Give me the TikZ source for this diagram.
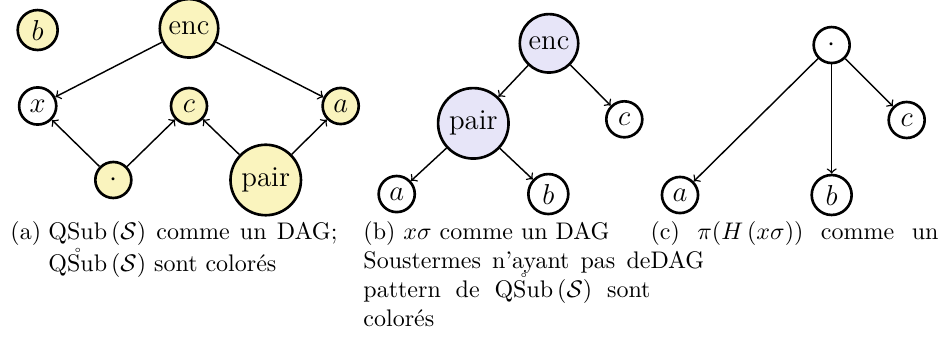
\documentclass[tikz,border=0pt]{standalone}
\usepackage{amsmath,amssymb}
\usepackage{fontspec}
\usepackage{tikz}
\definecolor{black}{RGB}{0,0,0}
\definecolor{qsubyellow}{RGB}{250,244,190}
\definecolor{souslavender}{RGB}{231,229,248}
\newcommand{\QSub}{\mathrm{QSub}}

\begin{document}
\begin{tikzpicture}[termnode/.style={draw=black,line width=1.1pt,circle,inner sep=2.5pt,minimum size=15pt,font=\large},
    qsubnode/.style={termnode,fill=qsubyellow},
    sousnode/.style={termnode,fill=souslavender},
    capnode/.style={anchor=base west,inner sep=0pt,align=justify}]
        \useasboundingbox (0,0) rectangle (13.771,5.084);

        % (a) QSub comme un DAG
        \node[qsubnode] (bA) at (0.552,4.644) {$b$};
        \node[qsubnode] (encA) at (2.769,4.669) {enc};
        \node[termnode] (xA) at (0.552,3.531) {$x$};
        \node[qsubnode] (cA) at (2.769,3.531) {$c$};
        \node[qsubnode] (aA) at (4.991,3.531) {$a$};
        \node[qsubnode] (dotA) at (1.660,2.447) {$\cdot$};
        \node[qsubnode] (pairA) at (3.893,2.447) {pair};

        \draw [semithick, ->] (encA) -- (xA);
        \draw [semithick, ->] (encA) -- (aA);
        \draw [semithick, ->] (dotA) -- (xA);
        \draw [semithick, ->] (dotA) -- (cA);
        \draw [semithick, ->] (pairA) -- (cA);
        \draw [semithick, ->] (pairA) -- (aA);

        % (b) x sigma comme un DAG
        \node[sousnode] (encB) at (8.043,4.449) {enc};
        \node[sousnode] (pairB) at (6.934,3.277) {pair};
        \node[termnode] (cB) at (9.146,3.336) {$c$};
        \node[termnode] (aB) at (5.812,2.241) {$a$};
        \node[termnode] (bB) at (8.033,2.241) {$b$};

        \draw [semithick, ->] (encB) -- (pairB);
        \draw [semithick, ->] (encB) -- (cB);
        \draw [semithick, ->] (pairB) -- (aB);
        \draw [semithick, ->] (pairB) -- (bB);

        % (c) pi(H(x sigma)) comme un DAG
        \node[termnode] (dotC) at (12.184,4.424) {$\cdot$};
        \node[termnode] (cC) at (13.283,3.326) {$c$};
        \node[termnode] (aC) at (9.962,2.227) {$a$};
        \node[termnode] (bC) at (12.184,2.227) {$b$};

        \draw [semithick, ->] (dotC) -- (aC);
        \draw [semithick, ->] (dotC) -- (bC);
        \draw [semithick, ->] (dotC) -- (cC);

        % captions
        \node[capnode] (labA) at (0.146,1.568) {(a)};
        \node[capnode, text width=4.234cm] (capA) at (0.703,1.568)
            {$\QSub\left(\mathcal{S}\right)$ comme un DAG;\linebreak
            $\mathring{\QSub}\left(\mathcal{S}\right)$ sont colorés};
        \node[capnode, text width=4.205cm] (capB) at (5.318,1.568)
            {(b) $x\sigma$ comme un DAG\newline
            Soustermes n'ayant pas de\linebreak
            pattern de $\mathring{\QSub}\left(\mathcal{S}\right)$ sont\linebreak
            colorés};
        \node[capnode, text width=4.219cm] (capC) at (9.523,1.568)
            {(c) $\pi(H\left(x\sigma\right))$ comme un\linebreak DAG};
    \end{tikzpicture}
\end{document}
